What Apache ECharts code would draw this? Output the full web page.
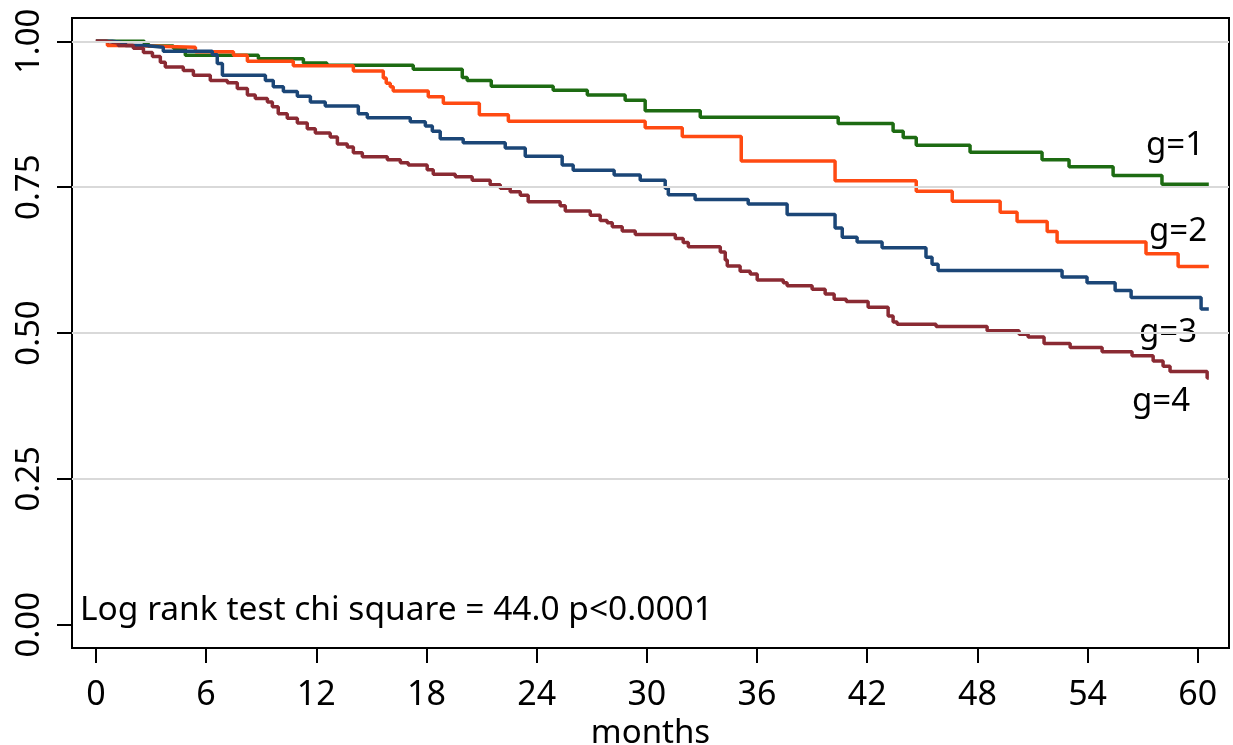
<!DOCTYPE html>
<html>
<head>
<meta charset="utf-8">
<script src="https://cdn.jsdelivr.net/npm/echarts@6/dist/echarts.min.js"></script>
<style>
html, body { margin: 0; padding: 0; background: #fff; }
#km-chart { width: 1233px; height: 745px; }
</style>
</head>
<body>
<div id="km-chart"></div>
<script>
// ==============================================================
// data : Kaplan-Meier steps (month, survival)
// ==============================================================
var monthTicks = [0, 6, 12, 18, 24, 30, 36, 42, 48, 54, 60];
var survTicks = [0, 0.25, 0.5, 0.75, 1];
var gridValues = [0.25, 0.5, 0.75, 1];

var g1Months = [0, 2.64, 2.86, 4.22, 4.87, 8.85, 11.3, 12.58, 17.28, 19.95, 20.22, 21.53, 24.9, 26.76, 28.82, 29.91, 32.91, 40.42, 43.41, 43.96, 44.67, 47.6, 51.52, 52.99, 55.39, 58.05, 60.6];
var g1Surv   = [1, 0.996, 0.992, 0.988, 0.976, 0.970, 0.963, 0.959, 0.952, 0.938, 0.933, 0.923, 0.916, 0.908, 0.899, 0.881, 0.870, 0.859, 0.846, 0.835, 0.822, 0.810, 0.797, 0.785, 0.770, 0.755, 0.755];

var g2Months = [0, 0.63, 1.77, 5.42, 7.49, 8.25, 10.75, 14.02, 15.65, 15.81, 16.03, 16.19, 18.1, 18.92, 20.88, 22.46, 29.91, 31.93, 35.14, 40.25, 44.67, 46.63, 49.24, 50.16, 51.8, 52.34, 57.18, 58.93, 60.6];
var g2Surv   = [1, 0.993, 0.990, 0.982, 0.976, 0.966, 0.958, 0.949, 0.937, 0.928, 0.922, 0.915, 0.905, 0.894, 0.874, 0.863, 0.852, 0.837, 0.795, 0.761, 0.743, 0.726, 0.707, 0.691, 0.674, 0.656, 0.636, 0.614, 0.614];

var g3Months = [0, 0.9, 1.61, 2.69, 3.67, 6.34, 6.61, 6.89, 9.23, 9.66, 10.21, 10.97, 11.68, 12.49, 14.29, 14.78, 17.12, 17.94, 18.32, 18.75, 20.0, 22.29, 23.38, 25.39, 25.99, 28.22, 29.64, 31.0, 31.17, 32.63, 35.52, 37.64, 40.25, 40.64, 41.45, 42.81, 45.2, 45.53, 45.86, 52.61, 53.97, 55.5, 56.37, 60.18, 60.6];
var g3Surv   = [1, 0.997, 0.993, 0.990, 0.983, 0.977, 0.962, 0.942, 0.933, 0.922, 0.914, 0.906, 0.896, 0.889, 0.876, 0.869, 0.862, 0.855, 0.846, 0.833, 0.826, 0.817, 0.803, 0.788, 0.779, 0.771, 0.762, 0.748, 0.737, 0.729, 0.721, 0.703, 0.680, 0.664, 0.656, 0.646, 0.630, 0.618, 0.607, 0.596, 0.586, 0.573, 0.561, 0.541, 0.541];

var g4Months = [0, 0.52, 1.22, 2.04, 2.59, 3.08, 3.51, 3.78, 4.76, 5.31, 6.23, 7.16, 7.7, 8.25, 8.68, 9.34, 9.61, 9.93, 10.42, 10.97, 11.51, 11.95, 12.76, 13.15, 13.69, 14.02, 14.51, 15.87, 16.58, 17.01, 18.04, 18.37, 19.57, 20.49, 21.47, 22.02, 22.56, 23.11, 23.54, 25.28, 25.56, 26.92, 27.46, 27.84, 28.12, 28.66, 29.37, 31.55, 31.98, 32.26, 34.0, 34.27, 34.38, 35.08, 35.63, 36.01, 37.43, 37.64, 39.0, 39.71, 40.2, 40.86, 42.05, 43.14, 43.41, 43.63, 45.75, 48.53, 50.27, 50.76, 51.63, 53.05, 54.79, 56.42, 57.57, 58.11, 58.49, 60.51, 60.6];
var g4Surv   = [1, 0.997, 0.993, 0.988, 0.981, 0.974, 0.964, 0.956, 0.950, 0.942, 0.933, 0.929, 0.919, 0.908, 0.902, 0.896, 0.888, 0.876, 0.868, 0.860, 0.850, 0.843, 0.836, 0.824, 0.819, 0.809, 0.802, 0.797, 0.792, 0.788, 0.780, 0.772, 0.768, 0.762, 0.754, 0.748, 0.742, 0.736, 0.725, 0.718, 0.709, 0.702, 0.693, 0.689, 0.682, 0.675, 0.669, 0.662, 0.655, 0.648, 0.639, 0.625, 0.615, 0.606, 0.601, 0.591, 0.586, 0.581, 0.575, 0.567, 0.558, 0.554, 0.544, 0.529, 0.519, 0.515, 0.511, 0.504, 0.498, 0.493, 0.482, 0.475, 0.468, 0.461, 0.452, 0.443, 0.434, 0.423, 0.423];

var groupNames = ['g=1', 'g=2', 'g=3', 'g=4'];
var testText = 'Log rank test chi square = 44.0 p<0.0001';

function pairs(xs, ys) {
    var out = [];
    for (var i = 0; i < xs.length; i++) out.push([xs[i], ys[i]]);
    return out;
}

// ==============================================================
// chart option
// ==============================================================
var myChart = echarts.init(document.getElementById('km-chart'));
var txtFont = '"Noto Sans", sans-serif';

function kmSeries(name, data, color) {
    return {
        name: name,
        type: 'line',
        step: 'end',
        showSymbol: false,
        animation: false,
        z: 3,
        data: data,
        lineStyle: { color: color, width: 3.5 },
        itemStyle: { color: color }
    };
}

option = {
    animation: false,
    textStyle: { fontFamily: txtFont },
    grid: {
        left: 72, top: 18, right: 4, bottom: 97,
        outerBoundsMode: 'none',
        containLabel: false,
        show: true, borderColor: '#000', borderWidth: 2
    },
    xAxis: {
        type: 'value',
        min: -1.3,
        max: 61.7,
        name: 'months',
        nameLocation: 'middle',
        nameGap: 60,
        nameTextStyle: { fontSize: 33, color: '#000', fontFamily: txtFont },
        axisLine: { onZero: false, lineStyle: { color: '#000', width: 2 } },
        axisTick: { customValues: monthTicks, length: 15, lineStyle: { color: '#000', width: 2 } },
        axisLabel: { customValues: monthTicks, margin: 30, fontSize: 34, color: '#000', fontFamily: txtFont },
        splitLine: { show: false }
    },
    yAxis: {
        type: 'value',
        min: -0.04,
        max: 1.04,
        axisLine: { show: true, onZero: false, lineStyle: { color: '#000', width: 2 } },
        axisTick: { show: true, customValues: survTicks, length: 15, lineStyle: { color: '#000', width: 2 } },
        axisLabel: {
            customValues: survTicks, rotate: 90, margin: 26, fontSize: 33, color: '#000', fontFamily: txtFont,
            formatter: function (v) { return v.toFixed(2); }
        },
        splitLine: { show: false }
    },
    series: [
        {
            name: 'grid',
            type: 'line',
            data: [],
            silent: true,
            z: 1,
            markLine: {
                silent: true,
                symbol: 'none',
                label: { show: false },
                lineStyle: { color: '#d9d9d9', width: 2, type: 'solid' },
                data: gridValues.map(function (v) { return { yAxis: v }; })
            }
        },
        kmSeries(groupNames[0], pairs(g1Months, g1Surv), '#1d6b12'),
        kmSeries(groupNames[1], pairs(g2Months, g2Surv), '#ff4a12'),
        kmSeries(groupNames[2], pairs(g3Months, g3Surv), '#1b4677'),
        kmSeries(groupNames[3], pairs(g4Months, g4Surv), '#8a2a33')
    ],
    graphic: [
        { type: 'text', left: 80, top: 593, style: { text: testText, font: '33.5px "Noto Sans"', fill: '#000' } },
        { type: 'text', left: 1146, top: 129, style: { text: groupNames[0], font: '33px "Noto Sans"', fill: '#000' } },
        { type: 'text', left: 1149, top: 215, style: { text: groupNames[1], font: '33px "Noto Sans"', fill: '#000' } },
        { type: 'text', left: 1139, top: 316, style: { text: groupNames[2], font: '33px "Noto Sans"', fill: '#000' } },
        { type: 'text', left: 1132, top: 385, style: { text: groupNames[3], font: '33px "Noto Sans"', fill: '#000' } }
    ]
};

myChart.setOption(option, true);
</script>
</body>
</html>
